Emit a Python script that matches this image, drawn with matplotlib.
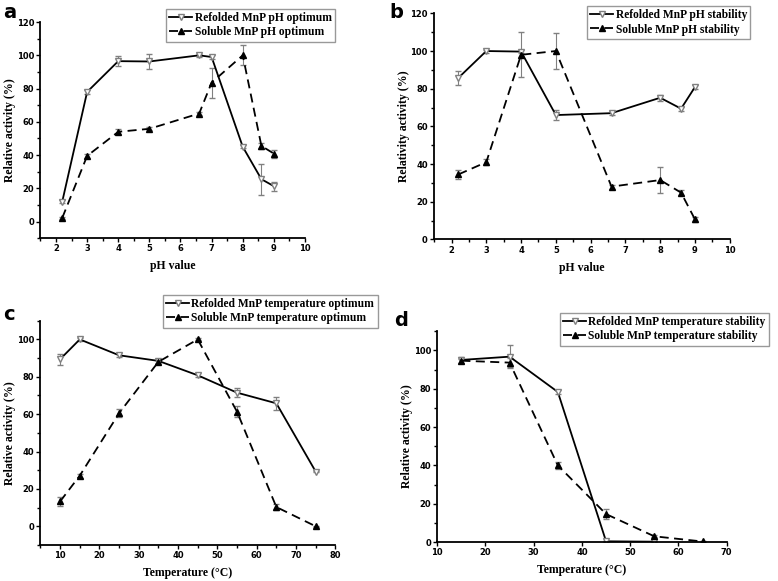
import numpy as np
import matplotlib.pyplot as plt
from matplotlib.ticker import MultipleLocator, AutoMinorLocator

# panel a: pH optimum
ph_a = [2.2, 3, 4, 5, 6.6, 7, 8, 8.6, 9]
ref_a = [12, 78, 96.5, 96.3, 100, 99, 45, 25.5, 21.3]
ref_a_err = [1, 1, 3, 4.4, 0.8, 1, 1, 9.3, 2.8]
sol_a = [2.2, 39.5, 54, 55.8, 65, 83.6, 100, 45.5, 40.9]
sol_a_err = [0.8, 1, 1.5, 1, 1, 9, 6, 2, 2.4]

# panel b: pH stability
ph_b = [2.2, 3, 4, 5, 6.6, 8, 8.6, 9]
ref_b = [85.8, 100, 99.7, 66, 67, 75.2, 69.4, 80.9]
ref_b_err = [3.7, 0.8, 1, 2.5, 1, 1.5, 1, 1]
sol_b = [34.5, 41, 98, 100, 28, 31.5, 24.8, 10.6]
sol_b_err = [2.5, 1.5, 12, 9.7, 1, 7, 1.5, 1.5]

# panel c: temperature optimum
t_c = [10, 15, 25, 35, 45, 55, 65, 75]
ref_c = [89.4, 100, 91.5, 88.5, 80.8, 71.5, 65.8, 29.3]
ref_c_err = [3, 0.8, 1, 1, 1, 2.5, 3.5, 0.5]
sol_c = [13.3, 27.1, 60.5, 88, 100, 61.3, 10.3, 0]
sol_c_err = [2.5, 1, 2, 1, 0.5, 3, 1.5, 0.3]

# panel d: temperature stability
t_d_ref = [15, 25, 35, 45, 55]
ref_d = [95, 96.7, 78.3, 0.4, 0.2]
ref_d_err = [1.5, 6, 1, 0.3, 0.3]
t_d_sol = [15, 25, 35, 45, 55, 65]
sol_d = [94.6, 93.6, 40, 14.6, 3, 0.3]
sol_d_err = [1, 2.5, 2, 2.5, 0.5, 0.3]

plt.rcParams['font.family'] = 'DejaVu Sans'

fig = plt.figure(figsize=(7.78, 5.81), dpi=100)

serif = {'family': 'Liberation Serif', 'weight': 'bold'}

def panel(rect, x1, y1, e1, x2, y2, e2, lab1, lab2, xlab, ylab,
          xlim, ylim, xmaj, xmin_n, leg_anchor):
    ax = fig.add_axes(rect)
    ax.errorbar(x1, y1, yerr=e1, fmt='none', ecolor='gray', elinewidth=0.8, capsize=2)
    ax.errorbar(x2, y2, yerr=e2, fmt='none', ecolor='gray', elinewidth=0.8, capsize=2)
    ax.plot(x1, y1, color='black', lw=1.3, ls='-', marker='v', ms=5,
            mfc='white', mec='gray', label=lab1)
    ax.plot(x2, y2, color='black', lw=1.3, ls=(0, (5, 3)), marker='^', ms=5,
            mfc='black', mec='black', label=lab2)
    ax.set_xlim(xlim)
    ax.set_ylim(ylim)
    ax.xaxis.set_major_locator(MultipleLocator(xmaj))
    ax.xaxis.set_minor_locator(AutoMinorLocator(xmin_n))
    ax.yaxis.set_major_locator(MultipleLocator(20))
    ax.yaxis.set_minor_locator(AutoMinorLocator(2))
    ax.spines['right'].set_visible(False)
    ax.spines['top'].set_visible(False)
    ax.spines['left'].set_linewidth(1.3)
    ax.spines['bottom'].set_linewidth(1.3)
    ax.tick_params(which='major', length=3, width=1, labelsize=6, pad=1.5)
    ax.tick_params(which='minor', length=2, width=1)
    for t in ax.get_xticklabels() + ax.get_yticklabels():
        t.set_fontweight('bold')
    ax.set_xlabel(xlab, fontdict=serif, fontsize=8.5, labelpad=5)
    ax.set_ylabel(ylab, fontdict=serif, fontsize=8.5, labelpad=0.5)
    leg = ax.legend(loc='upper right', bbox_to_anchor=leg_anchor,
                    bbox_transform=fig.transFigure,
                    prop={'family': 'Liberation Serif', 'weight': 'bold', 'size': 8.3},
                    frameon=True, fancybox=False, handlelength=2.0,
                    handletextpad=0.2, borderpad=0.3, labelspacing=0.2,
                    edgecolor='gray')
    leg.get_frame().set_linewidth(1)
    return ax

panel([0.052, 0.590, 0.340, 0.372], ph_a, ref_a, ref_a_err, ph_a, sol_a, sol_a_err,
      'Refolded MnP pH optimum', 'Soluble MnP pH optimum',
      'pH value', 'Relative activity (%)', (1.5, 10), (-10, 120), 1, 2,
      (0.438, 0.995))

panel([0.558, 0.588, 0.380, 0.389], ph_b, ref_b, ref_b_err, ph_b, sol_b, sol_b_err,
      'Refolded MnP pH stability', 'Soluble MnP pH stability',
      'pH value', 'Relativity activity (%)', (1.5, 10), (0, 120), 1, 2,
      (0.972, 1.0))

panel([0.052, 0.062, 0.379, 0.386], t_c, ref_c, ref_c_err, t_c, sol_c, sol_c_err,
      'Refolded MnP temperature optimum', 'Soluble MnP temperature optimum',
      'Temperature (\u00b0C)', 'Relative activity (%)', (5, 80), (-10, 110), 10, 2,
      (0.493, 0.503))

panel([0.562, 0.067, 0.372, 0.363], t_d_ref, ref_d, ref_d_err, t_d_sol, sol_d, sol_d_err,
      'Refolded MnP temperature stability', 'Soluble MnP temperature stability',
      'Temperature (\u00b0C)', 'Relative activity (%)', (10, 70), (0, 110), 10, 1,
      (0.996, 0.472))

for lx, ly, s in [(0.004, 0.995, 'a'), (0.500, 0.995, 'b'),
                  (0.004, 0.475, 'c'), (0.507, 0.465, 'd')]:
    fig.text(lx, ly, s, fontsize=14, fontweight='bold', va='top', ha='left')

fig.savefig('out.png', dpi=100)
